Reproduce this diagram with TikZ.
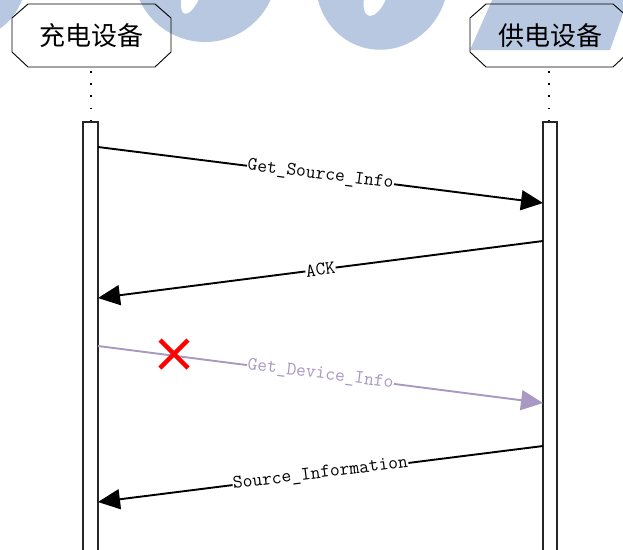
\documentclass[tikz,border=0pt]{standalone}
\usepackage{fontspec}
\newfontfamily\cjk{Noto Sans CJK SC}
\usetikzlibrary{arrows.meta,calc}
\definecolor{wm}{RGB}{184,200,224}
\definecolor{purp}{RGB}{168,152,194}
\tikzset{
  headbox/.style={draw=black, line width=0.9pt},
  headtext/.style={font=\cjk\fontsize{26}{26}\selectfont, inner sep=0pt},
  lifeline/.style={line width=1.6pt, dash pattern=on 1.6pt off 10.6pt},
  actbar/.style={draw=black!85, line width=1.1pt, fill=white},
  msg/.style={line width=1.9pt, -{Triangle[length=22pt,width=20pt]}},
  lbl/.style={midway, sloped, fill=white, inner sep=0.5pt, font=\ttfamily\fontsize{19}{19}\selectfont},
  cross/.style={red, line width=4.5pt}
}
\begin{document}
\begin{tikzpicture}[x=1pt,y=-1pt]
\useasboundingbox (0,0) rectangle (623,549);
% watermark
\begin{scope}
\clip (0,0) rectangle (623,549);
\fill[wm, rotate around={-20:(-15,-15)}] (-15,-15) ellipse (40 and 52);
\fill[wm, rotate around={-15:(205,-30)}] (205,-30) ellipse (72 and 72);
\fill[white, rotate around={-20:(193,-10)}] (193,-10) ellipse (9 and 25);
\fill[wm, rotate around={-15:(382,-20)}] (382,-20) ellipse (66 and 70);
\fill[white, rotate around={-20:(377,-8)}] (377,-8) ellipse (11 and 25);
\fill[wm] (470,50) -- (493,-2) -- (625,-2) -- (625,8) -- (610,50) -- cycle;
\end{scope}
% heads
\draw[headbox] (12,18) -- (28,4) -- (155,4) -- (171,18) -- (171,52) -- (155,67) -- (28,67) -- (12,52) -- cycle;
\draw[headbox] (470,18) -- (486,4) -- (613,4) -- (629,18) -- (629,52) -- (613,67) -- (486,67) -- (470,52) -- cycle;
\node[headtext] (hl) at (91,36) {充电设备};
\node[headtext] (hr) at (550,36) {供电设备};
\coordinate (hlb) at (91,67);
\coordinate (hrb) at (549,67);
\coordinate (alt) at (91,122);
\coordinate (art) at (549,122);
\draw[lifeline, dash phase=-4pt] (hlb) -- (alt);
\draw[lifeline, dash phase=-4pt] (hrb) -- (art);
% activation bars
\draw[actbar] (83,122) rectangle (98,560);
\draw[actbar] (543,122) rectangle (557,560);
% message endpoints
\coordinate (m1s) at (98,147);  \coordinate (m1e) at (543,203);
\coordinate (m2s) at (543,241); \coordinate (m2e) at (98,298);
\coordinate (m3s) at (98,346);  \coordinate (m3e) at (543,403);
\coordinate (m4s) at (543,446); \coordinate (m4e) at (98,502);
\draw[msg] (m1s) -- (m1e) node[lbl] (l1) {Get\_Source\_Info};
\draw[msg] (m2s) -- (m2e) node[lbl] (l2) {ACK};
\draw[msg, purp] (m3s) -- (m3e) node[lbl, text=purp] (l3) {Get\_Device\_Info};
\draw[msg] (m4s) -- (m4e) node[lbl] (l4) {Source\_Information};
% cross
\coordinate (xc) at (174,354);
\draw[cross] ($(xc)+(-14,-14)$) -- ($(xc)+(14,14)$);
\draw[cross] ($(xc)+(-14,14)$) -- ($(xc)+(14,-14)$);
\end{tikzpicture}
\end{document}
